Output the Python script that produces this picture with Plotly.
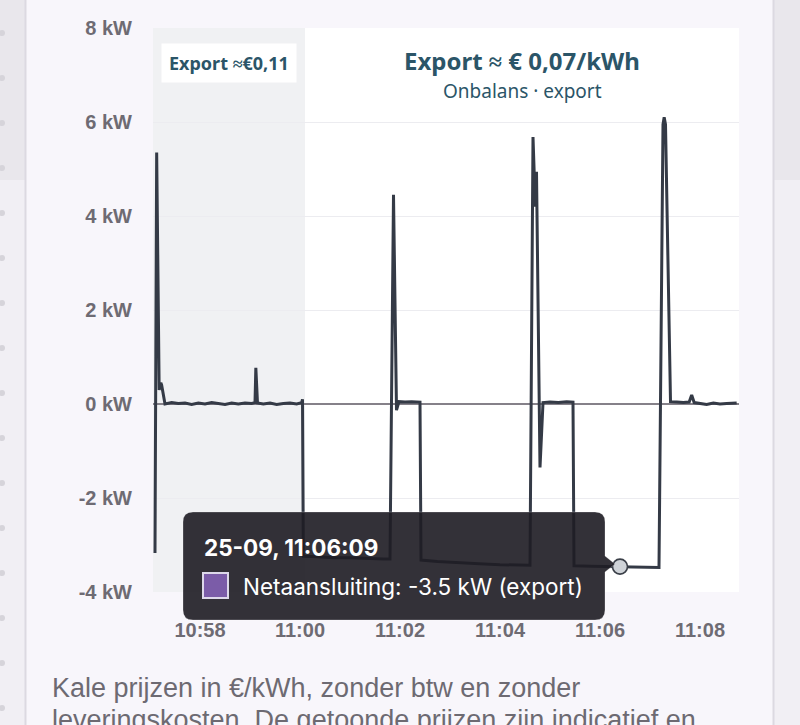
import plotly.graph_objects as go

# ---------------- data ----------------
DAY = "2025-09-25 "
times_hms = [
    "10:57:06", "10:57:08", "10:57:11", "10:57:13", "10:57:14", "10:57:17", "10:57:18",
    "10:57:26", "10:57:34", "10:57:42", "10:57:50", "10:57:58", "10:58:06", "10:58:14",
    "10:58:22", "10:58:30", "10:58:38", "10:58:46", "10:58:54", "10:59:02", "10:59:06",
    "10:59:07", "10:59:09", "10:59:16", "10:59:24", "10:59:32", "10:59:40", "10:59:48",
    "10:59:56", "11:00:02", "11:00:03", "11:00:04", "11:00:20", "11:00:40", "11:01:00",
    "11:01:20", "11:01:40", "11:01:48", "11:01:52.2", "11:01:55.8", "11:01:58.8", "11:02:06",
    "11:02:14", "11:02:24", "11:02:25.2", "11:02:45", "11:03:10", "11:03:35", "11:04:00",
    "11:04:20", "11:04:36", "11:04:39.6", "11:04:42.4", "11:04:43.8", "11:04:48", "11:04:51.6",
    "11:05:00", "11:05:10", "11:05:20", "11:05:27.6", "11:05:28.8", "11:05:50", "11:06:10",
    "11:06:24", "11:06:45", "11:07:10.8", "11:07:15.6", "11:07:17", "11:07:18.6", "11:07:24.6",
    "11:07:32", "11:07:40", "11:07:47", "11:07:50", "11:07:53", "11:08:00", "11:08:08",
    "11:08:16", "11:08:24", "11:08:32", "11:08:44",
]
power_kw = [
    -3.17, 5.35, 0.30, 0.45, 0.40, 0.05, 0.00,
    0.03, 0.01, 0.02, -0.01, 0.02, 0.00, 0.03,
    0.01, -0.01, 0.02, 0.00, 0.02, 0.01, 0.03,
    0.77, 0.02, 0.00, 0.02, -0.01, 0.01, 0.02,
    0.00, 0.03, 0.10, -3.24, -3.25, -3.27, -3.27,
    -3.29, -3.30, -3.30, 4.45, -0.13, 0.05, 0.04,
    0.05, 0.04, -3.32, -3.35, -3.38, -3.40, -3.42,
    -3.43, -3.43, 5.68, 4.20, 4.94, -1.35, 0.03,
    0.04, 0.03, 0.05, 0.04, -3.44, -3.45, -3.46,
    -3.46, -3.47, -3.48, 5.95, 6.10, 5.95, 0.05,
    0.04, 0.03, 0.04, 0.19, 0.03, 0.01, -0.01,
    0.02, 0.00, 0.01, 0.02,
]
times = [DAY + t for t in times_hms]

x_range = [DAY + "10:57:03.6", DAY + "11:08:46.8"]
shade_end = DAY + "11:00:06"
x_tick_vals = [DAY + t for t in ["10:58", "11:00", "11:02", "11:04", "11:06", "11:08"]]
x_tick_text = ["10:58", "11:00", "11:02", "11:04", "11:06", "11:08"]
y_tick_vals = [-4, -2, 0, 2, 4, 6, 8]
y_tick_text = [f"{v} kW" for v in y_tick_vals]

hover_index = times_hms.index("11:06:24")
hover_title = "25-09, 11:06:09"
hover_body = "Netaansluiting: -3.5 kW (export)"
old_price_label = "Export ≈€0,11"
price_title = "Export ≈ € 0,07/kWh"
price_sub = "Onbalans · export"
footer_1 = "Kale prijzen in €/kWh, zonder btw en zonder"
footer_2 = "leveringskosten. De getoonde prijzen zijn indicatief en"

# ---------------- layout helpers (pixel -> paper) ----------------
W, H = 800, 725
L, R, T, B = 153, 61, 28, 133
PW, PH = W - L - R, H - T - B


def px(x):
    return (x - L) / PW


def py(y):
    return (H - B - y) / PH


fig = go.Figure()
fig.add_trace(go.Scatter(x=times, y=power_kw, mode="lines",
                         line=dict(color="#343a46", width=3), hoverinfo="skip"))
fig.add_trace(go.Scatter(x=[times[hover_index]], y=[power_kw[hover_index]], mode="markers",
                         marker=dict(size=15, color="#cfd3d8", line=dict(color="#3a3f48", width=1.6)),
                         hoverinfo="skip"))

shapes = []
# page strips outside the card
for x0, x1 in [(0, 25), (774, 800)]:
    shapes.append(dict(type="rect", xref="paper", yref="paper", x0=px(x0), x1=px(x1), y0=py(725), y1=py(180),
                       fillcolor="#f1eff4", line=dict(width=0), layer="below"))
    shapes.append(dict(type="rect", xref="paper", yref="paper", x0=px(x0), x1=px(x1), y0=py(180), y1=py(0),
                       fillcolor="#e9e7ec", line=dict(width=0), layer="below"))
for xl in (25.5, 773.5):
    shapes.append(dict(type="line", xref="paper", yref="paper", x0=px(xl), x1=px(xl), y0=py(725), y1=py(0),
                       line=dict(color="#dcd9e1", width=2), layer="below"))
for k in range(16):
    yc = 33 + 45 * k
    shapes.append(dict(type="circle", xref="paper", yref="paper", x0=px(-1), x1=px(5), y0=py(yc + 3), y1=py(yc - 3),
                       fillcolor="#d6d4da", line=dict(width=0), layer="below"))
# shaded previous price period
shapes.append(dict(type="rect", xref="x", yref="paper", x0=x_range[0], x1=shade_end, y0=0, y1=1,
                   fillcolor="#f0f1f3", line=dict(width=0), layer="below"))

# tooltip box with arrow
x0, x1, y0, y1, r = 183, 605, 512, 620, 10
ya, xa = 564, 615
path = (f"M {px(x0 + r)},{py(y0)} L {px(x1 - r)},{py(y0)} Q {px(x1)},{py(y0)} {px(x1)},{py(y0 + r)} "
        f"L {px(x1)},{py(ya - 8)} L {px(xa)},{py(ya)} L {px(x1)},{py(ya + 8)} "
        f"L {px(x1)},{py(y1 - r)} Q {px(x1)},{py(y1)} {px(x1 - r)},{py(y1)} "
        f"L {px(x0 + r)},{py(y1)} Q {px(x0)},{py(y1)} {px(x0)},{py(y1 - r)} "
        f"L {px(x0)},{py(y0 + r)} Q {px(x0)},{py(y0)} {px(x0 + r)},{py(y0)} Z")
shapes.append(dict(type="path", xref="paper", yref="paper", path=path,
                   fillcolor="rgba(31,29,36,0.91)", line=dict(color="rgba(255,255,255,0.25)", width=1),
                   layer="above"))
shapes.append(dict(type="rect", xref="paper", yref="paper", x0=px(203), x1=px(228), y0=py(598), y1=py(573),
                   fillcolor="#7b5ca8", line=dict(color="#ddd8ea", width=2), layer="above"))


def note(text, x, y, font, xanchor="center", **kw):
    return dict(text=text, x=px(x), y=py(y), xref="paper", yref="paper", showarrow=False,
                xanchor=xanchor, yanchor="middle", font=font, **kw)


annotations = [
    note(old_price_label, 229, 63, dict(family="Noto Sans", size=18, color="#2b5568", weight="bold"),
         bgcolor="white", borderpad=7),
    note(price_title, 522, 61, dict(family="Noto Sans", size=24, color="#2b5568", weight="bold"), borderpad=0),
    note(price_sub, 522, 91, dict(family="Noto Sans", size=19, color="#2b5568"), borderpad=0),
    note(hover_title, 202, 547, dict(family="Inter", size=22.5, color="white", weight="bold"), xanchor="left"),
    note(hover_body, 241, 586, dict(family="Inter", size=22.5, color="white"), xanchor="left"),
    note(footer_1, 50, 688, dict(family="Liberation Sans", size=27, color="#6d6a72"), xanchor="left"),
    note(footer_2, 50, 720, dict(family="Liberation Sans", size=27, color="#6d6a72"), xanchor="left"),
]

tick_font = dict(family="Liberation Sans", size=20, color="#6e6b73", weight="bold")
fig.update_layout(
    width=W, height=H, margin=dict(l=L, r=R, t=T, b=B),
    paper_bgcolor="#f8f6fb", plot_bgcolor="white", showlegend=False,
    shapes=shapes, annotations=annotations,
    xaxis=dict(type="date", range=x_range, tickvals=x_tick_vals, ticktext=x_tick_text,
               showgrid=False, zeroline=False, showline=False, ticks="", tickfont=tick_font,
               ticklabelstandoff=24, fixedrange=True),
    yaxis=dict(range=[-4, 8], tickvals=y_tick_vals, ticktext=y_tick_text, showgrid=True,
               gridcolor="#ececf0", gridwidth=1, zeroline=True, zerolinecolor="#858189",
               zerolinewidth=1.5, showline=False, ticks="", tickfont=tick_font,
               ticklabelstandoff=20, fixedrange=True),
)

fig.write_html("out.html", config={"displayModeBar": False},
               post_script="document.body.style.margin='0';document.body.style.overflow='hidden';")
